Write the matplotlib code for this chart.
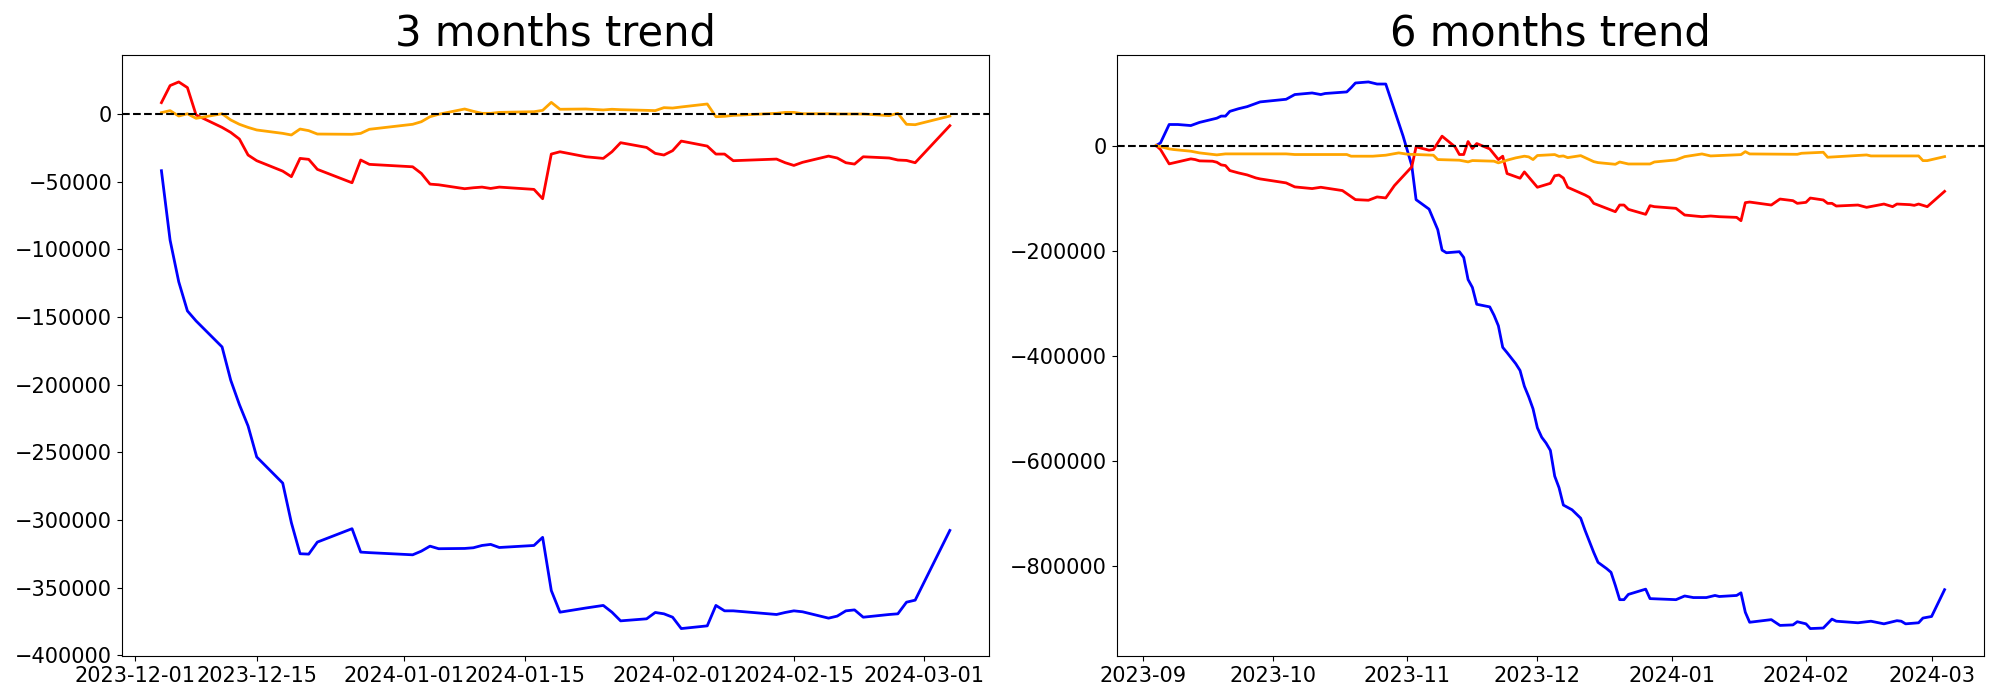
import matplotlib
matplotlib.use("Agg")
import matplotlib.pyplot as plt
import matplotlib.dates as mdates
from matplotlib.ticker import MultipleLocator
import pandas as pd

# ---- 3 months data (values in thousands) ----
dates_3m = ['2023-12-04', '2023-12-05', '2023-12-06', '2023-12-07', '2023-12-08',
            '2023-12-11', '2023-12-12', '2023-12-13', '2023-12-14', '2023-12-15',
            '2023-12-18', '2023-12-19', '2023-12-20', '2023-12-21', '2023-12-22',
            '2023-12-26', '2023-12-27', '2023-12-28',
            '2024-01-02', '2024-01-03', '2024-01-04', '2024-01-05',
            '2024-01-08', '2024-01-09', '2024-01-10', '2024-01-11', '2024-01-12',
            '2024-01-16', '2024-01-17', '2024-01-18', '2024-01-19',
            '2024-01-22', '2024-01-24', '2024-01-25', '2024-01-26',
            '2024-01-29', '2024-01-30', '2024-01-31', '2024-02-01', '2024-02-02',
            '2024-02-05', '2024-02-06', '2024-02-07', '2024-02-08',
            '2024-02-13', '2024-02-14', '2024-02-15', '2024-02-16',
            '2024-02-19', '2024-02-20', '2024-02-21', '2024-02-22', '2024-02-23',
            '2024-02-26', '2024-02-27', '2024-02-28', '2024-02-29', '2024-03-04']

blue_3m = [-41.9, -93.2, -124.0, -145.5, -152.9,
           -172.1, -196.7, -214.7, -230.5, -253.4,
           -272.7, -302.0, -324.9, -325.2, -316.3,
           -306.4, -323.7, -324.1,
           -325.7, -323.0, -319.3, -321.2,
           -321.0, -320.5, -318.8, -318.0, -320.3,
           -318.8, -312.8, -352.1, -368.1,
           -365.0, -363.1, -368.1, -374.5,
           -373.0, -368.3, -369.3, -371.8, -380.2,
           -378.2, -363.1, -367.1, -367.1,
           -369.8, -368.3, -367.1, -367.8,
           -372.5, -371.0, -367.1, -366.4, -371.8,
           -369.8, -369.3, -360.7, -359.2, -307.7]

red_3m = [8.4, 21.0, 23.7, 19.5, -0.7,
          -9.9, -13.6, -18.5, -30.3, -34.5,
          -42.2, -46.3, -32.8, -33.5, -40.9,
          -50.8, -34.0, -37.2,
          -39.0, -43.9, -51.8, -52.3,
          -55.2, -54.5, -54.0, -55.0, -54.0,
          -55.7, -62.6, -29.6, -27.9,
          -31.6, -32.8, -27.9, -21.2,
          -24.7, -29.1, -30.3, -27.1, -20.0,
          -23.7, -29.6, -29.6, -34.5,
          -33.3, -36.0, -38.0, -35.7,
          -31.1, -32.5, -36.0, -37.0, -31.6,
          -32.5, -34.0, -34.3, -36.0, -8.6]

orange_3m = [1.0, 2.5, -1.5, 0.2, -3.2,
             0.2, -4.4, -7.6, -9.9, -11.8,
             -14.3, -15.5, -11.1, -12.3, -14.8,
             -15.0, -14.3, -11.3,
             -7.6, -5.7, -2.0, -0.2,
             3.7, 2.0, 0.5, 0.5, 1.2,
             1.7, 2.7, 8.6, 3.5,
             3.7, 3.0, 3.5, 3.2,
             2.7, 2.5, 4.7, 4.4, 5.2,
             7.4, -2.0, -1.7, -1.0,
             0.5, 1.2, 1.2, 0.2,
             0.2, 0.0, 0.0, 0.0, 0.0,
             -1.2, 0.5, -7.6, -7.9, -1.5]

# ---- 6 months data: day offsets from start, values in thousands ----
start_6m = '2023-09-04'

blue_6m_day = [0, 1, 3, 5, 8, 9, 10, 11, 14, 15, 16, 17, 19, 21, 23, 24, 30, 32, 36, 38,
               39, 44, 45, 46, 49, 51, 53, 57, 59, 60, 63, 65, 66, 67, 70, 71, 72, 73, 74, 77,
               78, 79, 80, 81, 83, 84, 85, 86, 87, 88, 89, 90, 91, 92, 93, 94, 96, 98, 99, 100,
               101, 102, 104, 105, 106, 107, 108, 109, 113, 114, 120, 122, 124, 127, 129, 130, 134, 135, 136, 137,
               142, 144, 147, 148, 150, 151, 154, 156, 157, 162, 165, 168, 171, 172, 173, 176, 177, 179, 182]
blue_6m = [0, 5, 40, 40, 38, 41, 44, 46, 52, 56, 56, 65, 70, 74, 80, 83, 88, 97, 100, 97,
           99, 102, 110, 119, 121, 117, 117, 18, -38, -103, -121, -160, -199, -204, -202, -213, -255, -270, -302, -307,
           -323, -343, -384, -394, -415, -428, -458, -478, -501, -537, -555, -566, -580, -629, -651, -684, -693, -709, -732, -753,
           -774, -793, -805, -812, -837, -864, -864, -854, -844, -862, -864, -857, -860, -860, -856, -858, -856, -851, -888, -907,
           -902, -913, -912, -906, -910, -919, -918, -901, -905, -908, -905, -910, -904, -905, -910, -908, -899, -896, -845]

red_6m_day = [0, 1, 3, 5, 8, 9, 10, 13, 14, 15, 16, 17, 19, 21, 23, 24, 30, 32, 36, 38,
              43, 44, 46, 49, 51, 53, 55, 57, 59, 60, 63, 64, 66, 69, 70, 71, 72, 73, 74, 77,
              79, 80, 81, 84, 85, 88, 91, 92, 93, 94, 95, 99, 100, 101, 106, 107, 108, 109, 113, 114,
              115, 120, 122, 126, 128, 130, 134, 135, 136, 137, 142, 144, 147, 148, 150, 151, 154, 155, 156, 157,
              162, 164, 168, 170, 171, 174, 175, 176, 178, 182]
red_6m = [0, -7.6, -34.9, -31.1, -25.4, -26.7, -29.2, -29.8, -31.8, -36.8, -38.1, -47.6, -52.1, -55.9, -61.6, -63.5, -71.1, -78.7, -81.9, -79.4,
          -85.7, -91.4, -102.9, -104.1, -97.8, -99.7, -76.2, -58.4, -40.6, -2.5, -8.9, -7.6, 17.8, -2.5, -17.1, -17.1, 7.6, -5.7, 3.8, -6.4,
          -26.7, -20.3, -53.3, -62.2, -50.2, -79.4, -71.9, -57.5, -56.1, -61.8, -79.5, -94.1, -98.6, -110.0, -125.9, -113.2, -113.2, -121.4, -130.9, -114.4,
          -116.3, -119.5, -132.2, -135.4, -134.1, -135.4, -136.7, -143.0, -108.7, -107.5, -113.2, -101.8, -104.9, -110.0, -108.1, -99.9, -103.6, -110.0, -110.0, -115.1,
          -113.2, -117.6, -111.3, -116.3, -111.3, -112.5, -113.8, -111.3, -116.3, -87.2]

orange_6m_day = [0, 3, 4, 8, 10, 14, 16, 30, 32, 44, 45, 50, 53, 56, 58, 64, 65, 70, 72, 73,
                 78, 79, 81, 83, 85, 86, 87, 88, 92, 93, 94, 95, 98, 101, 102, 106, 107, 109, 114, 115,
                 120, 122, 126, 128, 135, 136, 137, 148, 149, 154, 155, 164, 165, 176, 177, 178, 182]
orange_6m = [0, -6.4, -7.6, -10.8, -14.0, -17.8, -15.9, -15.9, -17.1, -17.1, -20.3, -20.3, -18.4, -14.0, -16.5, -18.4, -26.7, -27.9, -31.1, -28.6,
             -29.8, -33.0, -27.9, -23.5, -20.3, -21.6, -26.7, -19.0, -17.2, -20.7, -19.8, -23.0, -19.2, -30.6, -32.5, -35.7, -31.3, -35.1, -35.1, -31.3,
             -27.4, -21.1, -16.0, -19.8, -17.3, -11.6, -16.0, -16.7, -14.7, -12.8, -22.3, -17.9, -19.8, -19.8, -28.7, -28.7, -21.1]


def to_units(vals):
    return [v * 1000 for v in vals]


def offsets_to_dates(days):
    return pd.Timestamp(start_6m) + pd.to_timedelta(days, unit='D')


fig, (ax1, ax2) = plt.subplots(1, 2, figsize=(20, 7), dpi=100)
fig.subplots_adjust(left=0.061, right=0.992, bottom=0.063, top=0.922, wspace=0.147)

x3 = pd.to_datetime(dates_3m)
ax1.plot(x3, to_units(blue_3m), color='blue', linewidth=2)
ax1.plot(x3, to_units(red_3m), color='red', linewidth=2)
ax1.plot(x3, to_units(orange_3m), color='orange', linewidth=2)
ax1.axhline(0, color='black', linestyle='--', linewidth=1.5)
ax1.set_title('3 months trend', fontsize=30)
ax1.xaxis.set_major_locator(mdates.DayLocator(bymonthday=[1, 15]))
ax1.xaxis.set_major_formatter(mdates.DateFormatter('%Y-%m-%d'))
ax1.yaxis.set_major_locator(MultipleLocator(50000))

ax2.plot(offsets_to_dates(blue_6m_day), to_units(blue_6m), color='blue', linewidth=2)
ax2.plot(offsets_to_dates(red_6m_day), to_units(red_6m), color='red', linewidth=2)
ax2.plot(offsets_to_dates(orange_6m_day), to_units(orange_6m), color='orange', linewidth=2)
ax2.axhline(0, color='black', linestyle='--', linewidth=1.5)
ax2.set_title('6 months trend', fontsize=30)
ax2.xaxis.set_major_locator(mdates.MonthLocator())
ax2.xaxis.set_major_formatter(mdates.DateFormatter('%Y-%m'))
ax2.yaxis.set_major_locator(MultipleLocator(200000))

for ax in (ax1, ax2):
    ax.tick_params(labelsize=15)

fig.savefig('out.png', dpi=100)
